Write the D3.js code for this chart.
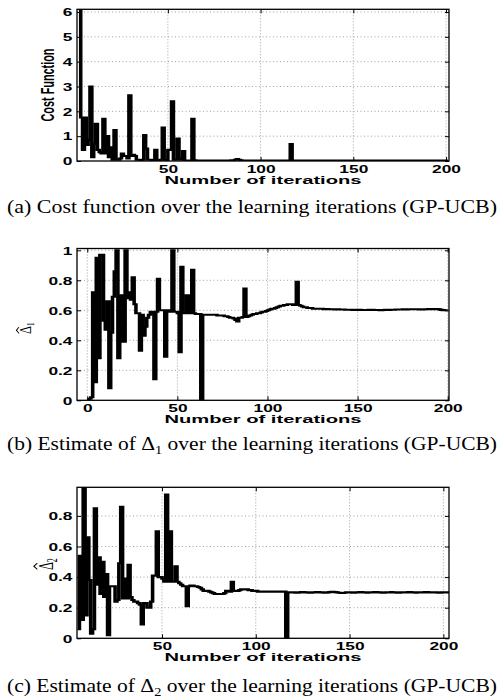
<!DOCTYPE html>
<html>
<head>
<meta charset="utf-8">
<script src="https://cdn.jsdelivr.net/npm/d3@7"></script>
<style>
  body { margin: 0; background: #fff; }
  svg { display: block; }
</style>
</head>
<body>
<div id="chart"></div>
<script>
// cost function per iteration, starting at iteration 1
var costStart = 1;
var costValues = [
  6.5, 6.5, 1.75, 0.45, 1.75, 0.65, 0.85, 3.0, 0.15, 0.7,
  1.5, 0.45, 0.35, 0.3, 1.7, 0.3, 1.0, 0.15, 0.55, 0.05,
  1.25, 0.05, 0.05, 0.1, 0.3, 0.2, 0.2, 0.1, 2.65, 0.2,
  0.25, 0.2, 0.05, 0.05, 0.02, 0.05, 1.05, 0.5, 0.05, 0.05,
  0.02, 0.05, 0.45, 0.02, 0.02, 0.05, 1.35, 0.05, 0.02, 0.45,
  0.45, 2.4, 0.05, 0.05, 0.9, 0.1, 0.05, 0.4, 0.02, 0.02,
  0.02, 0.02, 1.7, 0.03, 0.02, 0.02, 0.02, 0.02, 0.02, 0.02,
  0.02, 0.02, 0.02, 0.02, 0.02, 0.02, 0.02, 0.02, 0.02, 0.02,
  0.02, 0.02, 0.02, 0.03, 0.03, 0.05, 0.08, 0.05, 0.03, 0.02,
  0.02, 0.02, 0.02, 0.02, 0.02, 0.02, 0.02, 0.02, 0.02, 0.02,
  0.02, 0.02, 0.02, 0.02, 0.02, 0.02, 0.02, 0.02, 0.02, 0.02,
  0.02, 0.02, 0.02, 0.02, 0.02, 0.68, 0.02, 0.02, 0.02, 0.02,
  0.02, 0.02, 0.02, 0.02, 0.02, 0.02, 0.02, 0.02, 0.02, 0.02,
  0.02, 0.02, 0.02, 0.02, 0.02, 0.02, 0.02, 0.02, 0.02, 0.02,
  0.02, 0.02, 0.02, 0.02, 0.02, 0.02, 0.02, 0.02, 0.02, 0.02,
  0.02, 0.02, 0.02, 0.02, 0.02, 0.02, 0.02, 0.02, 0.02, 0.02,
  0.02, 0.02, 0.02, 0.02, 0.02, 0.02, 0.02, 0.02, 0.02, 0.02,
  0.02, 0.02, 0.02, 0.02, 0.02, 0.02, 0.02, 0.02, 0.02, 0.02,
  0.02, 0.02, 0.02, 0.02, 0.02, 0.02, 0.02, 0.02, 0.02, 0.02,
  0.02, 0.02, 0.02, 0.02, 0.02, 0.02, 0.02, 0.02, 0.02, 0.02,
  0.02
];

// estimate of Delta_1, starting at iteration 0
var delta1Start = 0;
var delta1Values = [
  0, 0.01, 0.02, 0.72, 0.12, 0.95, 0.28, 0.97, 0.97, 0.53,
  0.47, 0.66, 0.08, 0.45, 0.69, 0.86, 1.0, 0.28, 0.69, 0.70,
  0.39, 1.0, 0.68, 0.72, 0.67, 0.82, 0.64, 0.58, 0.58, 0.33,
  0.57, 0.43, 0.49, 0.55, 0.57, 0.59, 0.59, 0.14, 0.59, 0.81,
  0.60, 0.60, 0.60, 0.29, 0.60, 0.59, 0.59, 1.0, 0.59, 0.59,
  0.58, 0.32, 0.89, 0.58, 0.58, 0.70, 0.58, 0.58, 0.87, 0.58,
  0.575, 0.575, 0.575, 0.0, 0.57, 0.57, 0.57, 0.57, 0.57, 0.57,
  0.57, 0.57, 0.565, 0.565, 0.565, 0.565, 0.56, 0.56, 0.555, 0.55,
  0.55, 0.545, 0.535, 0.525, 0.55, 0.55, 0.555, 0.745, 0.555, 0.56,
  0.565, 0.57, 0.575, 0.575, 0.58, 0.58, 0.585, 0.59, 0.59, 0.595,
  0.60, 0.605, 0.61, 0.61, 0.615, 0.62, 0.625, 0.63, 0.63, 0.635,
  0.635, 0.64, 0.64, 0.64, 0.635, 0.635, 0.79, 0.635, 0.63, 0.625,
  0.62, 0.62, 0.615, 0.615, 0.615, 0.61, 0.61, 0.61, 0.61, 0.61,
  0.61, 0.608, 0.608, 0.608, 0.607, 0.607, 0.607, 0.606, 0.606, 0.606,
  0.605, 0.605, 0.605, 0.604, 0.604, 0.604, 0.604, 0.603, 0.603, 0.603,
  0.603, 0.603, 0.602, 0.602, 0.602, 0.602, 0.603, 0.603, 0.603, 0.602,
  0.602, 0.602, 0.601, 0.601, 0.602, 0.603, 0.603, 0.603, 0.604, 0.604,
  0.604, 0.605, 0.605, 0.605, 0.605, 0.606, 0.606, 0.606, 0.607, 0.607,
  0.607, 0.607, 0.607, 0.607, 0.606, 0.606, 0.606, 0.607, 0.607, 0.608,
  0.608, 0.608, 0.608, 0.609, 0.608, 0.606, 0.603, 0.601, 0.600, 0.600,
  0.600
];

// estimate of Delta_2, starting at iteration 5
var delta2Start = 5;
var delta2Values = [
  0.06, 0.54, 0.12, 1.0, 0.15, 0.66, 0.38, 0.03, 0.06, 0.85,
  0.35, 0.53, 0.29, 0.50, 0.27, 0.42, 0.02, 0.34, 0.34, 0.34,
  0.24, 0.25, 0.49, 0.86, 0.26, 0.39, 0.26, 0.48, 0.27, 0.25,
  0.24, 0.24, 0.23, 0.22, 0.09, 0.23, 0.23, 0.20, 0.20, 0.24,
  0.41, 0.41, 0.70, 0.40, 0.40, 0.39, 0.37, 0.94, 0.37, 0.70,
  0.37, 0.37, 0.47, 0.37, 0.36, 0.35, 0.34, 0.34, 0.21, 0.34,
  0.345, 0.345, 0.34, 0.34, 0.335, 0.33, 0.32, 0.31, 0.31, 0.31,
  0.305, 0.30, 0.295, 0.29, 0.29, 0.29, 0.29, 0.29, 0.295, 0.31,
  0.31, 0.305, 0.37, 0.31, 0.31, 0.31, 0.315, 0.32, 0.32, 0.32,
  0.32, 0.315, 0.315, 0.31, 0.31, 0.31, 0.305, 0.305, 0.305, 0.305,
  0.305, 0.305, 0.305, 0.305, 0.305, 0.305, 0.305, 0.305, 0.305, 0.305,
  0.305, 0.0, 0.30, 0.30, 0.30, 0.30, 0.298, 0.298, 0.30, 0.302,
  0.302, 0.30, 0.30, 0.298, 0.298, 0.30, 0.30, 0.302, 0.302, 0.30,
  0.30, 0.298, 0.298, 0.30, 0.302, 0.304, 0.304, 0.302, 0.30, 0.298,
  0.296, 0.296, 0.298, 0.30, 0.30, 0.30, 0.298, 0.298, 0.30, 0.30,
  0.302, 0.302, 0.30, 0.30, 0.298, 0.30, 0.30, 0.30, 0.302, 0.302,
  0.30, 0.30, 0.298, 0.298, 0.30, 0.30, 0.30, 0.302, 0.30, 0.30,
  0.298, 0.298, 0.30, 0.30, 0.30, 0.30, 0.302, 0.302, 0.30, 0.30,
  0.298, 0.30, 0.30, 0.30, 0.30, 0.302, 0.302, 0.30, 0.30, 0.30,
  0.30, 0.30, 0.298, 0.298, 0.30, 0.30, 0.30, 0.30, 0.30
];

var xTicksA = [50, 100, 150, 200];
var xTicksB = [0, 50, 100, 150, 200];
var yTicksCost = [0, 1, 2, 3, 4, 5, 6];
var yTicksD1 = [0, 0.2, 0.4, 0.6, 0.8, 1];
var yTicksD2 = [0, 0.2, 0.4, 0.6, 0.8];

var xLabel = "Number of iterations";
var captionA = ["(a) Cost function over the learning iterations (GP-UCB)"];
var captionB = ["(b) Estimate of ", "\u0394", "1", " over the learning iterations (GP-UCB)"];
var captionC = ["(c) Estimate of ", "\u0394", "2", " over the learning iterations (GP-UCB)"];

var w = 500;
var h = 700;
var left = 77, right = 449;
var SX = 1.7;   // the source figure is stretched sideways
var TSX = 1.65; // stretch of the tick labels
var sans = "'Liberation Sans', Arial, Helvetica, sans-serif";
var serif = "'Liberation Serif', 'Times New Roman', Times, serif";

var svg = d3.select("#chart").append("svg")
  .attr("width", w)
  .attr("height", h);

function panel(cfg) {
  var xScale = d3.scaleLinear().domain(cfg.xDomain).range([left, right]);
  var yScale = d3.scaleLinear().domain(cfg.yDomain).range([cfg.bottom, cfg.top]);
  // same x scale, in the squeezed space used for the stretched line
  var xLine = d3.scaleLinear().domain(cfg.xDomain).range([left / SX, right / SX]);

  var g = svg.append("g");

  svg.append("clipPath").attr("id", "clip" + cfg.id)
    .append("rect")
    .attr("x", left).attr("y", cfg.top)
    .attr("width", right - left).attr("height", cfg.bottom - cfg.top);

  // dotted grid
  g.selectAll(".gridx").data(cfg.xTicks).enter().append("line")
    .attr("x1", function (d) { return xScale(d); })
    .attr("x2", function (d) { return xScale(d); })
    .attr("y1", cfg.top).attr("y2", cfg.bottom)
    .attr("stroke", "#8a8a8a").attr("stroke-width", 0.8)
    .attr("stroke-dasharray", "1,2");
  g.selectAll(".gridy").data(cfg.yTicks.filter(function (d) { return d > 0; })).enter().append("line")
    .attr("x1", left).attr("x2", right)
    .attr("y1", function (d) { return yScale(d); })
    .attr("y2", function (d) { return yScale(d); })
    .attr("stroke", "#8a8a8a").attr("stroke-width", 0.8)
    .attr("stroke-dasharray", "1,2.5");

  var line = d3.line()
    .x(function (d, i) { return xLine(cfg.start + i); })
    .y(function (d) { return yScale(d); })
    .curve(d3.curveStepAfter);

  g.append("g").attr("clip-path", "url(#clip" + cfg.id + ")")
    .append("path")
    .datum(cfg.values)
    .attr("transform", "scale(" + SX + ",1)")
    .attr("d", line)
    .attr("fill", "none")
    .attr("stroke", "#000")
    .attr("stroke-width", 2.1)
    .attr("stroke-linejoin", "miter");

  // ticks inward on all four sides
  var fmt = d3.format("~g");
  var gx = g.append("g")
    .attr("transform", "translate(0," + cfg.bottom + ")")
    .call(d3.axisBottom(xScale).tickValues(cfg.xTicks).tickSize(-4).tickFormat(fmt));
  gx.select(".domain").remove();
  gx.selectAll("text")
    .attr("y", 12).attr("dy", null)
    .attr("transform", "scale(" + TSX + ",1)");

  var gy = g.append("g")
    .attr("transform", "translate(" + left + ",0)")
    .call(d3.axisLeft(yScale).tickValues(cfg.yTicks).tickSize(-4).tickFormat(fmt));
  gy.select(".domain").remove();
  gy.selectAll("text")
    .attr("x", -4.5 / TSX).attr("dy", "0.36em")
    .attr("transform", "scale(" + TSX + ",1)");

  var gt = g.append("g")
    .attr("transform", "translate(0," + cfg.top + ")")
    .call(d3.axisTop(xScale).tickValues(cfg.xTicks).tickSize(-4).tickFormat(""));
  gt.select(".domain").remove();
  var gr = g.append("g")
    .attr("transform", "translate(" + right + ",0)")
    .call(d3.axisRight(yScale).tickValues(cfg.yTicks).tickSize(-4).tickFormat(""));
  gr.select(".domain").remove();

  g.selectAll(".tick line").attr("stroke", "#000").attr("stroke-width", 1);
  g.selectAll(".tick text")
    .attr("fill", "#000")
    .attr("font-family", sans)
    .attr("font-size", 10.5)
    .attr("font-weight", "bold");

  g.append("rect")
    .attr("x", left).attr("y", cfg.top)
    .attr("width", right - left).attr("height", cfg.bottom - cfg.top)
    .attr("fill", "none").attr("stroke", "#000").attr("stroke-width", 1.3);

  // x label
  g.append("g")
    .attr("transform", "translate(" + ((left + right) / 2) + "," + (cfg.bottom + 22.5) + ") scale(" + SX + ",1)")
    .append("text")
    .attr("text-anchor", "middle")
    .attr("font-family", sans).attr("font-weight", "bold").attr("font-size", 10.5)
    .attr("textLength", 197 / SX).attr("lengthAdjust", "spacingAndGlyphs")
    .text(xLabel);

  // caption
  var cap = svg.append("text")
    .attr("x", 7).attr("y", cfg.captionY)
    .attr("font-family", serif).attr("font-size", 19.5)
    .attr("textLength", 490).attr("lengthAdjust", "spacingAndGlyphs");
  cfg.caption.forEach(function (part, i) {
    var t = cap.append("tspan").text(part);
    if (i === 2) t.attr("font-size", 13).attr("dy", 4);
    if (i === 3) t.attr("dy", -4);
  });

  return g;
}

var gA = panel({
  id: "a", top: 9.3, bottom: 161, xDomain: [1, 201.6], yDomain: [0, 6.11],
  xTicks: xTicksA, yTicks: yTicksCost, start: costStart, values: costValues,
  caption: captionA, captionY: 213
});
gA.append("g")
  .attr("transform", "translate(54,85) scale(1.65,1) rotate(-90)")
  .append("text")
  .attr("text-anchor", "middle")
  .attr("font-family", sans).attr("font-weight", "bold").attr("font-size", 11.5)
  .attr("textLength", 73).attr("lengthAdjust", "spacingAndGlyphs")
  .text("Cost Function");

var gB = panel({
  id: "b", top: 248.5, bottom: 400.3, xDomain: [-5.7, 200.7], yDomain: [0, 1.012],
  xTicks: xTicksB, yTicks: yTicksD1, start: delta1Start, values: delta1Values,
  caption: captionB, captionY: 450
});

var gC = panel({
  id: "c", top: 487.3, bottom: 638.3, xDomain: [4.7, 203], yDomain: [0, 0.987],
  xTicks: xTicksA, yTicks: yTicksD2, start: delta2Start, values: delta2Values,
  caption: captionC, captionY: 692
});

// rotated hat-Delta labels
function deltaLabel(g, x, y, size, sub, sx) {
  var lg = g.append("g").attr("transform", "translate(" + x + "," + y + ") scale(" + sx + ",1) rotate(-90)");
  lg.append("text").attr("font-family", serif).attr("font-size", size).text("\u0394");
  lg.append("text").attr("font-family", serif).attr("font-size", size * 0.65)
    .attr("x", size * 0.62).attr("y", size * 0.2).text(sub);
  lg.append("path")
    .attr("d", "M" + (size * 0.05) + "," + (-size * 0.74) + "L" + (size * 0.3) + "," + (-size * 0.9) + "L" + (size * 0.55) + "," + (-size * 0.74))
    .attr("fill", "none").attr("stroke", "#000").attr("stroke-width", 0.8);
}
deltaLabel(gB, 31, 334, 12.5, "1", 1.3);
deltaLabel(gC, 53, 570, 12.5, "2", SX);
</script>
</body>
</html>
